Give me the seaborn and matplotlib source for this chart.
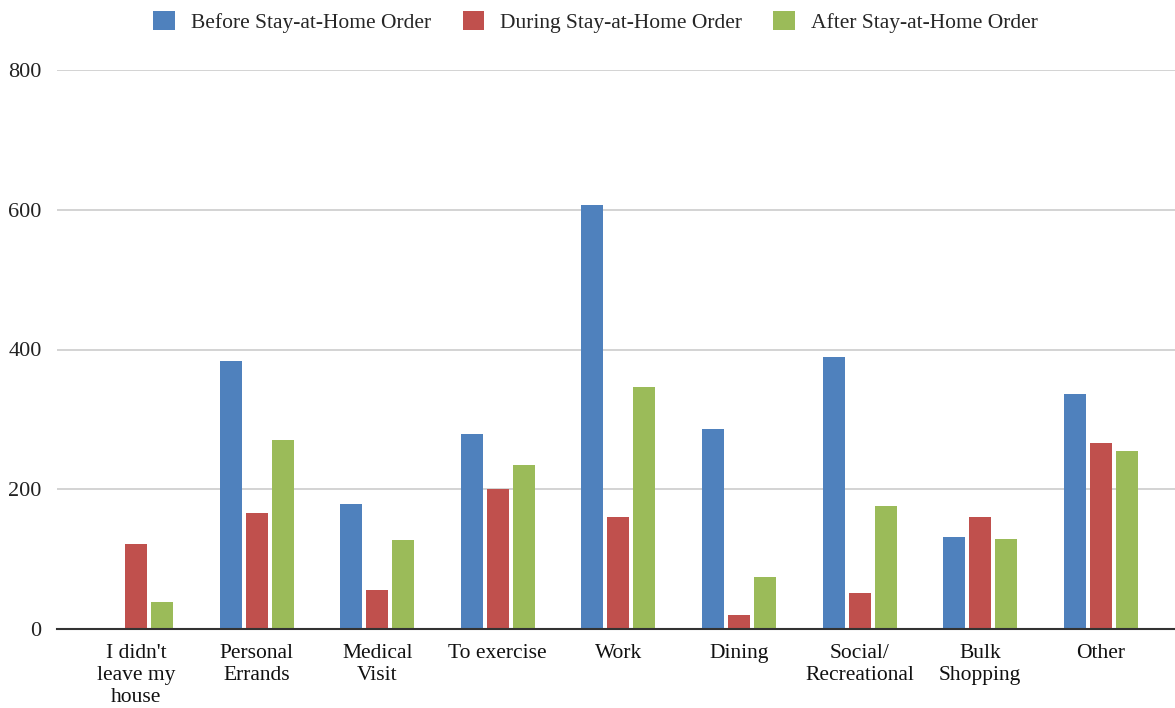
import matplotlib
matplotlib.use("Agg")
import matplotlib.pyplot as plt
import seaborn as sns
import pandas as pd
from matplotlib.patches import Patch

categories = ["I didn't\nleave my\nhouse", "Personal\nErrands", "Medical\nVisit", "To exercise",
              "Work", "Dining", "Social/\nRecreational", "Bulk\nShopping", "Other"]
series_names = ["Before Stay-at-Home Order", "During Stay-at-Home Order", "After Stay-at-Home Order"]
before = [2, 384, 179, 279, 607, 286, 389, 132, 336]
during = [122, 166, 56, 200, 160, 20, 51, 160, 266]
after = [39, 270, 127, 235, 346, 74, 176, 129, 255]
yticks = [0, 200, 400, 600, 800]
colors = ["#4F81BD", "#C0504D", "#9BBB59"]

df = pd.DataFrame({
    "category": categories * 3,
    "series": [series_names[0]] * 9 + [series_names[1]] * 9 + [series_names[2]] * 9,
    "value": before + during + after,
})

sns.set_style("white")
plt.rcParams["font.family"] = ["Liberation Serif", "DejaVu Serif"]

fig = plt.figure(figsize=(11.75, 7.08), dpi=100)
ax = fig.add_axes([57 / 1175, 1 - 629 / 708, 1 - 57 / 1175, (629 - 70) / 708])

sns.barplot(data=df, x="category", y="value", hue="series", order=categories,
            hue_order=series_names, palette=colors, width=0.647, gap=0.154,
            saturation=1, legend=False, linewidth=0, ax=ax, zorder=3)

ax.set_ylim(0, 800)
ax.set_xlim(-0.655, 8.615)
ax.set_yticks(yticks)
ax.set_yticklabels([str(v) for v in yticks], fontsize=16, color="#222222")
ax.tick_params(axis="y", length=0, pad=11)
ax.tick_params(axis="x", length=0, pad=11, labelsize=15.5)
for lbl in ax.get_xticklabels():
    lbl.set_color("#111111")
    lbl.set_linespacing(1.2)
    lbl.set_verticalalignment("top")
ax.set_xlabel("")
ax.set_ylabel("")
ax.grid(axis="y", color="#CCCCCC", linewidth=1.2, zorder=0)
for s in ["top", "right", "left"]:
    ax.spines[s].set_visible(False)
ax.spines["bottom"].set_color("#333333")
ax.spines["bottom"].set_linewidth(1.5)
ax.spines["bottom"].set_zorder(4)

handles = [Patch(facecolor=c, edgecolor="none") for c in colors]
fig.legend(handles, series_names, loc="center", bbox_to_anchor=(0.507, 1 - 22 / 708),
           ncol=3, frameon=False, fontsize=15.5, handlelength=1.0, handleheight=1.0,
           handletextpad=0.75, columnspacing=1.45)

fig.savefig("out.png", dpi=100)
